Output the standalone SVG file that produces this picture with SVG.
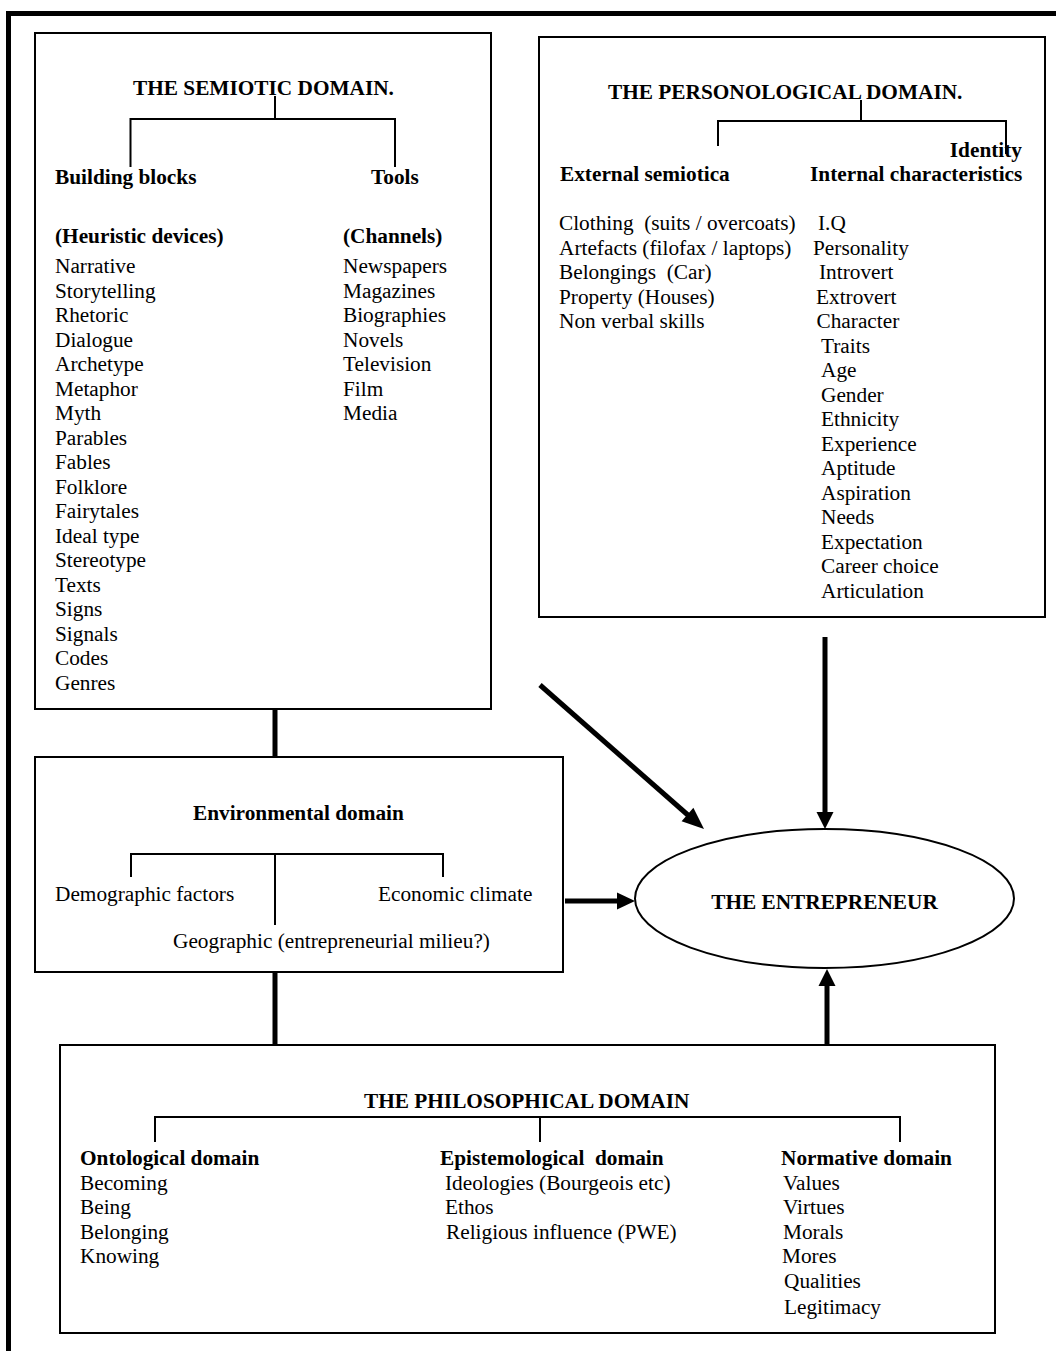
<svg xmlns="http://www.w3.org/2000/svg" width="1056" height="1351" viewBox="0 0 1056 1351">
<style>
text { font-family: "Liberation Serif", "Times New Roman", serif; font-size: 21.3px; fill: #000; white-space: pre; }
.b { font-weight: bold; }
.box { fill: #fff; stroke: #000; stroke-width: 2; }
.tree { fill: none; stroke: #000; stroke-width: 2; }
.thick { fill: none; stroke: #000; stroke-width: 5; }
.head { fill: #000; stroke: none; }
</style>
<rect width="1056" height="1351" fill="#fff"/>
<path d="M 8.5 1351 V 13.5 H 1056" fill="none" stroke="#000" stroke-width="5"/>

<g id="connectors">
  <line class="thick" x1="275" y1="709" x2="275" y2="757"/>
  <line class="thick" x1="275" y1="972" x2="275" y2="1045"/>
  <line class="thick" x1="540" y1="685" x2="689" y2="816"/>
  <polygon class="head" points="704,829 681.6,821.3 693.4,807.7"/>
  <line class="thick" x1="825" y1="637" x2="825" y2="814"/>
  <polygon class="head" points="816.5,812 833.5,812 825,829"/>
  <line class="thick" x1="565" y1="901" x2="619" y2="901"/>
  <polygon class="head" points="617,892.5 617,909.5 635,901"/>
  <line class="thick" x1="827" y1="1045" x2="827" y2="984"/>
  <polygon class="head" points="818.5,986 835.5,986 827,969"/>
</g>

<g id="semiotic">
  <rect class="box" x="35" y="33" width="456" height="676"/>
  <text class="b" x="133" y="95">THE SEMIOTIC DOMAIN.</text>
  <path class="tree" d="M 275 96 V 119 M 130.5 167 V 119 H 395 V 167"/>
  <text class="b" x="55" y="184">Building blocks</text>
  <text class="b" x="371" y="184">Tools</text>
  <text class="b" x="55" y="243">(Heuristic devices)</text>
  <text class="b" x="343" y="243">(Channels)</text>
  <text x="55" y="273">Narrative</text>
  <text x="55" y="297.5">Storytelling</text>
  <text x="55" y="322">Rhetoric</text>
  <text x="55" y="346.5">Dialogue</text>
  <text x="55" y="371">Archetype</text>
  <text x="55" y="395.5">Metaphor</text>
  <text x="55" y="420">Myth</text>
  <text x="55" y="444.5">Parables</text>
  <text x="55" y="469">Fables</text>
  <text x="55" y="493.5">Folklore</text>
  <text x="55" y="518">Fairytales</text>
  <text x="55" y="542.5">Ideal type</text>
  <text x="55" y="567">Stereotype</text>
  <text x="55" y="591.5">Texts</text>
  <text x="55" y="616">Signs</text>
  <text x="55" y="640.5">Signals</text>
  <text x="55" y="665">Codes</text>
  <text x="55" y="689.5">Genres</text>
  <text x="343" y="273">Newspapers</text>
  <text x="343" y="297.5">Magazines</text>
  <text x="343" y="322">Biographies</text>
  <text x="343" y="346.5">Novels</text>
  <text x="343" y="371">Television</text>
  <text x="343" y="395.5">Film</text>
  <text x="343" y="420">Media</text>
</g>

<g id="personological">
  <rect class="box" x="539" y="37" width="506" height="580"/>
  <text class="b" x="608" y="99">THE PERSONOLOGICAL DOMAIN.</text>
  <path class="tree" d="M 861 100 V 121 M 718 146 V 121 H 1006 V 154"/>
  <text class="b" x="1022" y="157" text-anchor="end">Identity</text>
  <text class="b" x="560" y="181">External semiotica</text>
  <text class="b" x="810" y="181">Internal characteristics</text>
  <text x="559" y="230" xml:space="preserve">Clothing  (suits / overcoats)</text>
  <text x="559" y="254.5">Artefacts (filofax / laptops)</text>
  <text x="559" y="279" xml:space="preserve">Belongings  (Car)</text>
  <text x="559" y="303.5">Property (Houses)</text>
  <text x="559" y="328">Non verbal skills</text>
  <text x="818" y="230">I.Q</text>
  <text x="813" y="254.5">Personality</text>
  <text x="819" y="279">Introvert</text>
  <text x="816" y="303.5">Extrovert</text>
  <text x="816.5" y="328">Character</text>
  <text x="821" y="352.5">Traits</text>
  <text x="821" y="377">Age</text>
  <text x="821" y="401.5">Gender</text>
  <text x="821" y="426">Ethnicity</text>
  <text x="821" y="450.5">Experience</text>
  <text x="821" y="475">Aptitude</text>
  <text x="821" y="499.5">Aspiration</text>
  <text x="821" y="524">Needs</text>
  <text x="821" y="548.5">Expectation</text>
  <text x="821" y="573">Career choice</text>
  <text x="821" y="597.5">Articulation</text>
</g>

<g id="environmental">
  <rect class="box" x="35" y="757" width="528" height="215"/>
  <text class="b" x="193" y="820">Environmental domain</text>
  <path class="tree" d="M 131 877 V 854 H 443 V 877 M 275 854 V 925"/>
  <text x="55" y="901">Demographic factors</text>
  <text x="378" y="901">Economic climate</text>
  <text x="173" y="948">Geographic (entrepreneurial milieu?)</text>
</g>

<g id="entrepreneur">
  <ellipse cx="824.5" cy="898.5" rx="189.5" ry="69.5" fill="#fff" stroke="#000" stroke-width="2"/>
  <text class="b" x="824.5" y="909" text-anchor="middle">THE ENTREPRENEUR</text>
</g>

<g id="philosophical">
  <rect class="box" x="60" y="1045" width="935" height="288"/>
  <text class="b" x="364" y="1108">THE PHILOSOPHICAL DOMAIN</text>
  <path class="tree" d="M 155 1142 V 1117 H 900 V 1142 M 540 1117 V 1142"/>
  <text class="b" x="80" y="1165">Ontological domain</text>
  <text x="80" y="1189.5">Becoming</text>
  <text x="80" y="1214">Being</text>
  <text x="80" y="1238.5">Belonging</text>
  <text x="80" y="1263">Knowing</text>
  <text class="b" x="440" y="1165" xml:space="preserve">Epistemological  domain</text>
  <text x="445" y="1189.5">Ideologies (Bourgeois etc)</text>
  <text x="445" y="1214">Ethos</text>
  <text x="446" y="1238.5">Religious influence (PWE)</text>
  <text class="b" x="781" y="1165">Normative domain</text>
  <text x="783" y="1189.5">Values</text>
  <text x="783" y="1214">Virtues</text>
  <text x="783" y="1238.5">Morals</text>
  <text x="782" y="1263">Mores</text>
  <text x="784" y="1287.5">Qualities</text>
  <text x="784" y="1314">Legitimacy</text>
</g>
</svg>
